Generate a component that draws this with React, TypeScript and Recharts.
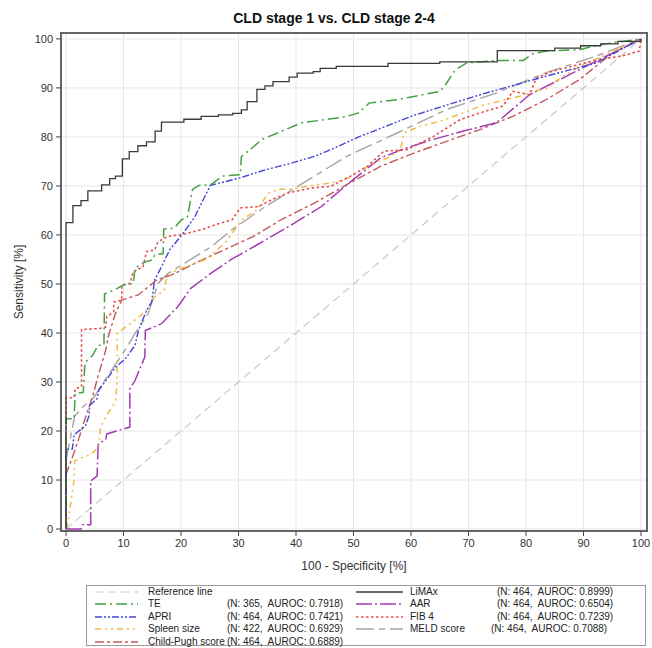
import React from 'react';
import { LineChart, Line, XAxis, YAxis, CartesianGrid, ReferenceArea } from 'recharts';

const TICKS = [0, 10, 20, 30, 40, 50, 60, 70, 80, 90, 100];
const X_MIN = -0.87;
const X_MAX = 101.04;
const Y_MIN = -0.4;
const Y_MAX = 101.2;

const REFERENCE: [number, number][] = [[0, 0], [100, 100]];

const LIMAX: [number, number][] = [
  [0, 0], [0, 62.5], [1.2, 66], [2.6, 67], [3.8, 69], [6.2, 70.2], [7.6, 71.5], [8.6, 72], [9.8, 75.5],
  [11, 77], [12.5, 78.2], [14, 79], [15.5, 81.2], [16.6, 83], [20.5, 83.6], [23.5, 84.2], [26.5, 84.5],
  [29, 84.8], [30.5, 85.5], [31.5, 87.2], [33.2, 89.7], [34.6, 90.4], [36, 91.3], [38.8, 92.2], [40.2, 93],
  [43, 93.3], [44.2, 94], [47, 94.4], [56, 95], [65, 95.3], [75, 97.6], [85, 98.1], [89.5, 98.6], [93, 99],
  [96, 99.5], [100, 100],
];

const TE: [number, number][] = [
  [0, 0], [0, 22.5], [1.4, 22.5], [1.6, 27.6], [3, 27.9], [3.3, 34], [4.6, 35.4], [5.6, 37.5], [6.6, 37.5],
  [6.7, 48], [8.3, 48.7], [10, 49.8], [11.7, 50.1], [12, 53.2], [13.7, 54.5], [15.1, 54.9], [15.4, 55.9],
  [16.9, 56.2], [17, 61.2], [18.8, 61.4], [20.1, 63.1], [21.1, 63.5], [22, 69.3], [23.1, 70.1], [25.1, 70.2],
  [27.2, 72], [30.3, 72.3], [30.5, 76], [32.4, 77.8], [34.1, 79.5], [37.6, 81.2], [41, 82.9], [45, 83.5],
  [48.6, 84.1], [50.9, 84.9], [52.7, 86.9], [57.6, 87.6], [65.1, 89.3], [66.2, 91], [67.7, 93.7], [69.7, 95.1],
  [74.9, 95.6], [79.5, 95.6], [81.2, 97], [83.5, 97.5], [89.3, 97.8], [92.7, 98.8], [100, 100],
];

const APRI: [number, number][] = [
  [0, 0], [0, 16.3], [1.1, 16.3], [1.4, 19.2], [3.4, 21.1], [4, 23.1], [4.1, 25.2], [5.4, 26.6], [5.7, 28.3],
  [7.1, 30.6], [8.6, 33], [10.3, 34.7], [12, 37.5], [12.6, 40.5], [14, 44.6], [14.9, 46.3], [15.4, 50.8],
  [16.6, 53.5], [18, 56.9], [20.2, 60.1], [22.3, 63.5], [25.1, 70.1], [30.1, 71.6], [34.7, 73.3], [39.3, 74.7],
  [43.4, 76.1], [47.4, 78.1], [50.9, 80], [60.5, 84.4], [72, 88.6], [83.5, 92.4], [92.2, 95.1], [100, 100],
];

const SPLEEN: [number, number][] = [
  [0, 0], [0.3, 1], [1.4, 10], [1.5, 13.9], [2.9, 14.6], [4.3, 15.2], [5.7, 16.7], [6, 20.8], [7.4, 23.8],
  [8.6, 25.9], [8.9, 30.3], [8.9, 39.9], [10, 40.9], [12.3, 42.9], [14, 44.6], [15.4, 47.4], [17.1, 48.7],
  [17.4, 50.8], [19.1, 52.8], [20.8, 53.5], [24.3, 55], [27.7, 58.4], [30.6, 63.1], [32.9, 64.8], [35.3, 68.6],
  [37, 69.3], [39.3, 69.4], [42.8, 70.1], [46.2, 70.6], [49.1, 71.6], [53.5, 74.7], [55.9, 75.7], [58.2, 77.4],
  [58.7, 80.8], [61.6, 82.2], [65.1, 83.2], [69.1, 84.9], [72, 86.3], [75.4, 87.3], [78.9, 88.3], [80.6, 89.3],
  [83.5, 89.7], [85.2, 91.4], [89.3, 94.4], [93.9, 96.8], [100, 100],
];

const CHILD_PUGH: [number, number][] = [
  [0, 0], [0, 11.2], [1.1, 14.6], [2.3, 18.7], [3.4, 22.8], [4.6, 26.9], [5.7, 31.7], [6.9, 36.5], [7.4, 39.5],
  [8.6, 44], [9.7, 46.7], [12.6, 47.8], [15.8, 50.8], [18.9, 52.1], [22.9, 54.5], [27.4, 56.9], [32.6, 59.7],
  [37.4, 63.1], [43.2, 66.5], [48.9, 70.3], [54.7, 74], [60.5, 76.7], [66.2, 79.1], [72, 81.5], [77.7, 84.2],
  [83.5, 87.6], [89.3, 91.7], [95, 97.1], [100, 100],
];

const AAR: [number, number][] = [
  [0, 0], [2.6, 0], [2.9, 0.9], [4.3, 0.9], [4.3, 9.8], [5.4, 10.8], [5.6, 17.3], [6.9, 18.3], [7.1, 19.4],
  [11.1, 20.8], [11.1, 28.6], [12, 30.3], [13.7, 35.1], [13.8, 40.5], [16.6, 41.9], [19.4, 45.3], [21.7, 49.1],
  [25.1, 52.1], [28.6, 54.9], [33.1, 57.9], [39.7, 62.4], [44.4, 65.8], [48.9, 70.3], [54.7, 75.7], [59.3, 77.8],
  [63.9, 79.5], [69.1, 81.2], [74.9, 82.9], [80.6, 88.6], [86.4, 92], [90.4, 94.4], [95, 97.1], [100, 100],
];

const FIB4: [number, number][] = [
  [0, 0], [0, 26.8], [1.4, 26.8], [1.6, 28.6], [2.7, 29], [2.7, 40.7], [5.7, 40.9], [6.9, 41.2], [7.1, 43.3],
  [8.3, 44.3], [8.3, 46.3], [9.7, 46.7], [9.7, 49.8], [11.1, 50.1], [11.7, 52.5], [13.4, 53.5], [14, 56.6],
  [15.4, 56.9], [16, 58.6], [17.7, 59.7], [20.2, 60.1], [23.7, 61.1], [26, 62.1], [28.9, 63.1], [30.3, 65.5],
  [33.5, 65.8], [35.8, 67.2], [38.7, 68.6], [42.8, 69.6], [46, 69.9], [49.5, 72], [52.4, 74], [55.3, 77.1],
  [59.3, 77.4], [63.9, 80.1], [68.5, 83.5], [72, 84.9], [76, 86.3], [77.7, 89.3], [80.6, 88.6], [81.8, 92],
  [84.6, 93.4], [88, 94.4], [92.7, 95.8], [96.7, 96.5], [99.7, 97.5], [100, 100],
];

const MELD: [number, number][] = [
  [0, 0], [0, 14], [1.5, 23], [3, 25], [4.9, 26.9], [6.3, 29.6], [8.9, 34.1], [10.6, 37.1], [12, 39.9],
  [14.3, 44], [16, 50.1], [17.7, 52.1], [22.9, 55.9], [25.4, 57.7], [28.9, 61.1], [34.7, 65.8], [40.3, 69.9],
  [48.9, 76.1], [57.6, 80.8], [66.2, 85.6], [74.9, 89], [83.5, 93.1], [92.2, 96.5], [100, 100],
];

type Series = {
  key: string;
  label: string;
  stats: string;
  points: [number, number][];
  color: string;
  dash?: string;
  width: number;
  step?: boolean;
};

const LEFT_SERIES: Series[] = [
  { key: 'ref', label: 'Reference line', stats: '', points: REFERENCE, color: '#c8c8c8', dash: '8 5', width: 1.2 },
  { key: 'te', label: 'TE', stats: '(N: 365,  AUROC: 0.7918)', points: TE, color: '#45a045', dash: '11 4 2 4', width: 1.5 },
  { key: 'apri', label: 'APRI', stats: '(N: 464,  AUROC: 0.7421)', points: APRI, color: '#4444d8', dash: '7 2 2 2 2 2', width: 1.4 },
  { key: 'spleen', label: 'Spleen size', stats: '(N: 422,  AUROC: 0.6929)', points: SPLEEN, color: '#f2b840', dash: '6 4 2 4 2 4', width: 1.5 },
  { key: 'cp', label: 'Child-Pugh score', stats: '(N: 464,  AUROC: 0.6889)', points: CHILD_PUGH, color: '#c25a5a', dash: '9 3 3 3', width: 1.4 },
];

const RIGHT_SERIES: Series[] = [
  { key: 'limax', label: 'LiMAx', stats: '(N: 464,  AUROC: 0.8999)', points: LIMAX, color: '#3a3a3a', width: 1.3, step: true },
  { key: 'aar', label: 'AAR', stats: '(N: 464,  AUROC: 0.6504)', points: AAR, color: '#a43ab4', dash: '16 3 2 3', width: 1.5 },
  { key: 'fib4', label: 'FIB 4', stats: '(N: 464,  AUROC: 0.7239)', points: FIB4, color: '#e65050', dash: '2.5 2.5', width: 1.6 },
  { key: 'meld', label: 'MELD score', stats: '(N: 464,  AUROC: 0.7088)', points: MELD, color: '#a4a4a4', dash: '18 5 6 5', width: 1.4 },
];

const DRAW_ORDER = ['ref', 'meld', 'cp', 'aar', 'spleen', 'fib4', 'apri', 'te', 'limax'];

const FONT = '"Liberation Sans", Arial, sans-serif';

const toPts = (arr: [number, number][]) => arr.map(([x, y]) => ({ x, y }));

const LegendSample = ({ s, w }: { s: Series; w: number }) => (
  <svg width={w} height={8} style={{ display: 'block' }}>
    <line x1={0} y1={4} x2={w} y2={4} stroke={s.color} strokeWidth={s.width} strokeDasharray={s.dash} />
  </svg>
);

export default function App() {
  const all = [...LEFT_SERIES, ...RIGHT_SERIES];
  const ordered = DRAW_ORDER.map((k) => all.find((s) => s.key === k)!) ;
  const rowTop = (i: number) => 585 + 1 + i * 12.4;
  return (
    <div style={{ position: 'absolute', left: 0, top: 0, width: 652, height: 648, background: '#fff', fontFamily: FONT, overflow: 'hidden' }}>
      <div style={{ position: 'absolute', left: 0, top: 10, width: 668, textAlign: 'center', fontSize: 14, fontWeight: 'bold', color: '#111', lineHeight: '16px' }}>
        CLD stage 1 vs. CLD stage 2-4
      </div>
      <LineChart width={652} height={648} margin={{ top: 33, right: 5, bottom: 72, left: 0 }}>
        <CartesianGrid stroke="#e6e6e6" strokeWidth={1} />
        <XAxis
          type="number"
          dataKey="x"
          domain={[X_MIN, X_MAX]}
          ticks={TICKS}
          allowDataOverflow
          interval={0}
          height={45}
          axisLine={false}
          tickLine={{ stroke: '#444' }}
          tickSize={5}
          tickMargin={3}
          tick={{ fontSize: 11, fill: '#333', fontFamily: FONT }}
          label={{ value: '100 - Specificity [%]', position: 'insideBottom', offset: 6, fontSize: 12, fill: '#333', fontFamily: FONT }}
        />
        <YAxis
          type="number"
          dataKey="y"
          domain={[Y_MIN, Y_MAX]}
          ticks={TICKS}
          allowDataOverflow
          interval={0}
          width={61}
          axisLine={false}
          tickLine={{ stroke: '#444' }}
          tickSize={5}
          tickMargin={3}
          tick={{ fontSize: 11, fill: '#333', fontFamily: FONT }}
          label={{ value: 'Sensitivity [%]', angle: -90, position: 'insideLeft', offset: 19, fontSize: 12, fill: '#333', fontFamily: FONT, style: { textAnchor: 'middle' } }}
        />
        {ordered.map((s) => (
          <Line
            key={s.key}
            data={toPts(s.points)}
            dataKey="y"
            type={s.step ? 'stepAfter' : 'linear'}
            stroke={s.color}
            strokeWidth={s.width}
            strokeDasharray={s.dash}
            dot={false}
            activeDot={false}
            isAnimationActive={false}
            legendType="none"
          />
        ))}
        <ReferenceArea x1={X_MIN} x2={X_MAX} y1={Y_MIN} y2={Y_MAX} fill="none" stroke="#666" strokeWidth={2} ifOverflow="visible" />
      </LineChart>
      <div style={{ position: 'absolute', left: 86, top: 585, width: 560, height: 61, border: '1px solid #999', boxSizing: 'border-box' }} />
      {LEFT_SERIES.map((s, i) => (
        <React.Fragment key={s.key}>
          <div style={{ position: 'absolute', left: 95, top: rowTop(i) + 2 }}>
            <LegendSample s={s} w={43} />
          </div>
          <div style={{ position: 'absolute', left: 148, top: rowTop(i), fontSize: 10, lineHeight: '12px', color: '#222', whiteSpace: 'pre' }}>{s.label}</div>
          {s.stats && (
            <div style={{ position: 'absolute', left: 227, top: rowTop(i), fontSize: 10, lineHeight: '12px', color: '#222', whiteSpace: 'pre' }}>{s.stats}</div>
          )}
        </React.Fragment>
      ))}
      {RIGHT_SERIES.map((s, i) => (
        <React.Fragment key={s.key}>
          <div style={{ position: 'absolute', left: 356, top: rowTop(i) + 2 }}>
            <LegendSample s={s} w={47} />
          </div>
          <div style={{ position: 'absolute', left: 410, top: rowTop(i), fontSize: 10, lineHeight: '12px', color: '#222', whiteSpace: 'pre' }}>{s.label}</div>
          <div style={{ position: 'absolute', left: s.key === 'meld' ? 491 : 497, top: rowTop(i), fontSize: 10, lineHeight: '12px', color: '#222', whiteSpace: 'pre' }}>{s.stats}</div>
        </React.Fragment>
      ))}
    </div>
  );
}
